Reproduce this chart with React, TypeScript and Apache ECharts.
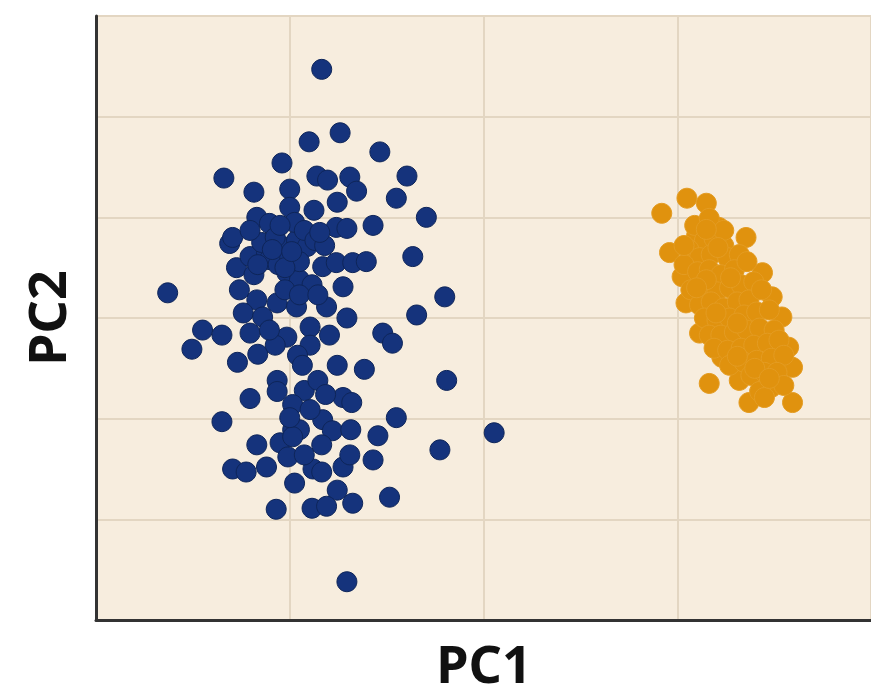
import React, { useEffect, useRef } from "react";
import * as echarts from "echarts";

// PCA scores: [PC1, PC2]
const groupA: number[][] = [
  [-1.67, 2.47], [-1.48, 1.84], [-1.80, 1.75], [-1.07, 1.65], [-2.08, 1.54],
  [-2.68, 1.39], [-1.72, 1.41], [-1.61, 1.37], [-1.38, 1.40], [-0.79, 1.41],
  [-2.37, 1.25], [-2.00, 1.28], [-1.31, 1.26], [-0.90, 1.19], [-1.51, 1.15],
  [-1.75, 1.07], [-2.00, 1.10], [-1.14, 0.92], [-0.59, 1.00], [-2.34, 1.00],
  [-2.21, 0.94], [-2.62, 0.74], [-2.59, 0.80], [-1.52, 0.90], [-1.41, 0.89],
  [-0.73, 0.61], [-0.40, 0.21], [-0.69, 0.03], [-3.26, 0.25], [-2.55, 0.50],
  [-2.52, 0.28], [-2.41, 0.61], [-2.24, 0.65], [-2.07, 0.71], [-1.93, 0.77],
  [-1.82, 0.71], [-2.03, 0.45], [-1.90, 0.38], [-1.66, 0.51], [-1.52, 0.55],
  [-1.35, 0.55], [-1.21, 0.56], [-1.45, 0.31], [-1.62, 0.11], [-1.41, 0.00],
  [-2.34, 0.18], [-2.48, 0.05], [-2.28, 0.01], [-2.13, 0.15], [-1.93, 0.11],
  [-1.79, -0.09], [-1.04, -0.15], [-0.94, -0.25], [-2.90, -0.12], [-2.70, -0.17],
  [-3.01, -0.31], [-2.54, -0.44], [-2.33, -0.36], [-2.03, -0.19], [-2.41, -0.15],
  [-1.79, -0.27], [-1.51, -0.47], [-1.23, -0.51], [-0.38, -0.62], [-1.85, -0.72],
  [-1.45, -0.79], [-2.13, -0.62], [-2.13, -0.73], [-2.41, -0.80], [-1.97, -0.86],
  [-1.36, -0.84], [-2.70, -1.03], [-0.90, -0.99], [-1.97, -1.11], [-1.90, -1.11],
  [-1.66, -1.01], [-1.56, -1.12], [-1.37, -1.11], [-2.34, -1.26], [-2.10, -1.24],
  [-1.09, -1.17], [-0.45, -1.31], [0.11, -1.14], [-1.14, -1.41], [-2.59, -1.50],
  [-2.45, -1.53], [-2.24, -1.48], [-1.95, -1.64], [-1.76, -1.50], [-1.67, -1.53],
  [-1.45, -1.48], [-1.51, -1.71], [-1.35, -1.84], [-0.97, -1.78], [-2.14, -1.90],
  [-1.77, -1.89], [-1.62, -1.87], [-1.41, -2.62], [-2.02, -1.38], [-1.97, -1.18],
  [-2.21, 0.58], [-2.12, 0.53], [-2.00, 0.60], [-2.29, 0.75], [-2.15, 0.80],
  [-1.90, 0.56], [-1.77, 0.33], [-2.05, 0.28], [-1.90, 0.23], [-1.71, 0.23],
  [-2.37, 0.43], [-1.95, 0.95], [-1.85, 0.87], [-2.10, 0.92], [-1.74, 0.77],
  [-1.64, 0.72], [-1.92, -0.37], [-1.87, -0.47], [-2.15, -0.27], [-2.21, -0.12],
  [-1.59, -0.17], [-1.71, -0.62], [-1.63, -0.76], [-1.79, -0.91], [-2.00, -0.99],
  [-1.67, -1.26], [-1.85, -1.36], [-1.38, -1.36], [-2.41, 0.87], [-2.33, 0.53],
  [-1.69, 0.85], [-2.18, 0.68], [-2.05, 0.50], [-1.98, 0.66],
];

const groupB: number[][] = [
  [1.84, 1.04], [2.10, 1.19], [2.30, 1.14], [1.92, 0.65], [2.71, 0.80],
  [2.20, 0.82], [2.43, 0.90], [2.05, 0.41], [2.09, 0.15], [2.88, 0.45],
  [2.98, 0.21], [3.08, 0.01], [2.23, -0.15], [2.33, -0.65], [2.46, -0.39],
  [2.64, -0.62], [2.74, -0.84], [3.19, -0.84], [3.19, -0.49], [3.15, -0.29],
  [2.97, -0.69],
  [2.18, 0.92], [2.28, 0.77], [2.38, 0.79], [2.48, 0.72], [2.12, 0.68],
  [2.23, 0.60], [2.35, 0.63], [2.52, 0.60], [2.64, 0.63], [2.07, 0.53],
  [2.21, 0.46], [2.33, 0.48], [2.45, 0.43], [2.59, 0.48], [2.72, 0.56],
  [2.14, 0.28], [2.28, 0.30], [2.41, 0.26], [2.54, 0.30], [2.66, 0.33],
  [2.79, 0.36], [2.23, 0.13], [2.35, 0.16], [2.48, 0.10], [2.62, 0.16],
  [2.74, 0.18], [2.87, 0.28], [2.28, 0.00], [2.41, -0.02], [2.54, 0.00],
  [2.69, 0.03], [2.82, 0.06], [2.95, 0.08], [2.33, -0.17], [2.45, -0.17],
  [2.59, -0.14], [2.72, -0.12], [2.85, -0.10], [3.00, -0.12], [2.38, -0.30],
  [2.52, -0.32], [2.66, -0.30], [2.79, -0.27], [2.93, -0.25], [3.05, -0.22],
  [2.54, -0.47], [2.69, -0.44], [2.82, -0.42], [2.97, -0.40], [3.10, -0.37],
  [2.76, -0.57], [2.90, -0.54], [3.03, -0.54], [2.85, -0.73], [3.10, -0.67],
  [2.90, -0.79], [2.33, 0.99], [2.48, 0.87], [2.07, 0.72],
  [2.30, 0.88], [2.42, 0.70], [2.30, 0.38], [2.55, 0.40], [2.40, 0.05],
  [2.62, -0.05], [2.62, -0.38], [2.80, -0.50], [2.95, -0.60], [2.20, 0.30],
];

const xTitle = "PC1";
const yTitle = "PC2";

export default function App() {
  const ref = useRef<HTMLDivElement>(null);
  useEffect(() => {
    if (!ref.current) return;
    const chart = echarts.init(ref.current, undefined, { renderer: "svg" });
    chart.setOption({
      animation: false,
      backgroundColor: "#ffffff",
      grid: {
        left: 96,
        top: 16,
        width: 776,
        height: 604,
        show: true,
        backgroundColor: "#f7edde",
        borderWidth: 0,
      },
      xAxis: {
        type: "value",
        min: -4,
        max: 4,
        interval: 2,
        axisLine: { show: true, onZero: false, lineStyle: { color: "#333333", width: 3 } },
        axisTick: { show: false },
        axisLabel: { show: false },
        splitLine: { show: true, lineStyle: { color: "#e3d6c2", width: 2 } },
      },
      yAxis: {
        type: "value",
        min: -3,
        max: 3,
        interval: 1,
        axisLine: { show: true, onZero: false, lineStyle: { color: "#333333", width: 3 } },
        axisTick: { show: false },
        axisLabel: { show: false },
        splitLine: { show: true, lineStyle: { color: "#e3d6c2", width: 2 } },
      },
      graphic: [
        {
          type: "text",
          x: 45,
          y: 318,
          rotation: Math.PI / 2,
          style: {
            text: yTitle,
            font: 'bold 52px "Noto Sans"',
            lineHeight: 52,
            fill: "#111111",
            align: "center",
            verticalAlign: "middle",
          },
        },
        {
          type: "text",
          x: 484,
          y: 662,
          style: {
            text: xTitle,
            font: 'bold 52px "Noto Sans"',
            lineHeight: 52,
            fill: "#111111",
            align: "center",
            verticalAlign: "middle",
          },
        },
      ],
      series: [
        {
          type: "scatter",
          data: groupA,
          symbolSize: 20,
          itemStyle: { color: "#15337c", borderColor: "#0e2559", borderWidth: 1, opacity: 1 },
        },
        {
          type: "scatter",
          data: groupB,
          symbolSize: 20,
          itemStyle: { color: "#e0920e", borderColor: "#e49c22", borderWidth: 1, opacity: 1 },
        },
      ],
    });
    return () => chart.dispose();
  }, []);
  return (
    <div
      ref={ref}
      style={{ position: "absolute", left: 0, top: 0, width: 871, height: 696 }}
    />
  );
}
